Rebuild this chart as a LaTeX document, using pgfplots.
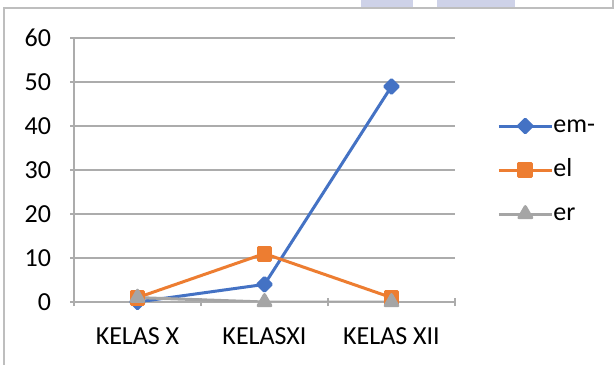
\documentclass[border=0pt]{standalone}
\usepackage{fontspec}
\setmainfont{Carlito}
\usepackage{pgfplots}
\pgfplotsset{compat=1.18}

\definecolor{serblue}{RGB}{68,114,196}
\definecolor{serorange}{RGB}{237,125,49}
\definecolor{sergray}{RGB}{165,165,165}
\definecolor{gridgray}{RGB}{172,172,172}
\definecolor{framegray}{RGB}{190,190,190}
\definecolor{wmark}{RGB}{206,210,232}

\newcommand{\chartfont}{\fontsize{13bp}{15bp}\selectfont}

\begin{document}
\begin{tikzpicture}[font=\chartfont]
\useasboundingbox (0,0) rectangle (308bp,182.5bp);
\fill[white] (0,0) rectangle (308bp,182.5bp);
% page decoration along the top edge
\fill[wmark] (180.5bp,178bp) rectangle (206.5bp,182.5bp);
\fill[wmark] (218.5bp,178bp) rectangle (257.5bp,182.5bp);
\draw[framegray, line width=0.6bp] (2bp,0) -- (2bp,178.5bp) -- (306.5bp,178.5bp) -- (306.5bp,182.5bp);

\begin{axis}[
  at={(37bp,31.5bp)}, anchor=south west,
  scale only axis, width=190.5bp, height=132bp,
  font=\chartfont,
  /pgf/number format/assume math mode=true,
  xmin=-0.5, xmax=2.5, ymin=0, ymax=60,
  ytick={0,10,...,60},
  yticklabel={\pgfmathprintnumber{\tick}},
  xtick={0,1,2},
  xticklabels={KELAS X, KELASXI, KELAS XII},
  minor xtick={-0.5,0.5,1.5,2.5},
  major x tick style={draw=none},
  minor x tick style={gridgray, line width=0.75bp},
  y tick style={gridgray, line width=0.75bp},
  tick align=outside, tick pos=left,
  major tick length=3.5bp, minor tick length=4bp,
  axis x line=bottom, axis y line=left,
  axis line style={-, gridgray, line width=0.75bp},
  ymajorgrids, grid style={gridgray, line width=0.75bp},
  yticklabel style={anchor=east, inner sep=0pt, xshift=-9.5bp, font=\chartfont},
  xticklabel style={anchor=base, inner sep=0pt, yshift=-19.5bp, font=\chartfont},
  legend style={draw=none, fill=none, inner sep=0pt, at={(1.110,0.5)}, anchor=west,
    row sep=10bp, nodes={inner sep=0pt, text height=9bp, text depth=3bp},
    font=\chartfont},
  legend cell align=left,
  legend image code/.code={
    \draw[mark repeat=2, mark phase=2, #1] plot coordinates {(0bp,0bp) (13.25bp,0bp) (26.5bp,0bp)};
  },
  every axis plot/.append style={line width=1.5bp, line join=round},
]
\addplot[serblue, mark=square*, mark size=2.4bp, mark options={rotate=45, solid}]
  coordinates {(0,0) (1,4) (2,49)};
\addplot[serorange, mark=square*, mark size=3.2bp, mark options={solid}]
  coordinates {(0,1) (1,11) (2,1)};
\addplot[sergray, mark=triangle*, mark size=3.7bp, mark options={solid}]
  coordinates {(0,1) (1,0) (2,0)};
\legend{em-, el, er}
\end{axis}
\end{tikzpicture}
\end{document}
